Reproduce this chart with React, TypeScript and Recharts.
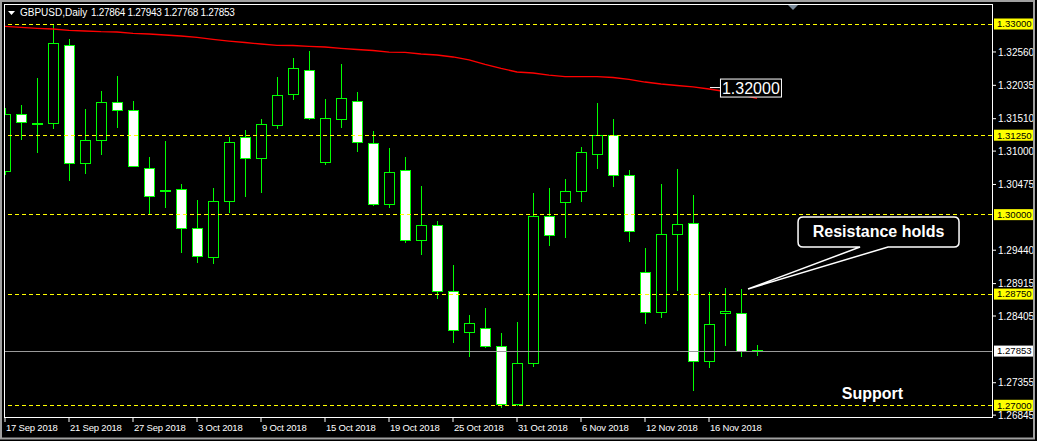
import React from "react"
import { ComposedChart, Bar, Line, XAxis, YAxis, ReferenceLine, ReferenceDot } from "recharts"

const FONT = "Liberation Sans, Arial, sans-serif"

// trading days shown on the chart
const dates = [
  "17 Sep 2018", "18 Sep 2018", "19 Sep 2018", "20 Sep 2018", "21 Sep 2018",
  "24 Sep 2018", "25 Sep 2018", "26 Sep 2018", "27 Sep 2018", "28 Sep 2018",
  "1 Oct 2018", "2 Oct 2018", "3 Oct 2018", "4 Oct 2018", "5 Oct 2018",
  "8 Oct 2018", "9 Oct 2018", "10 Oct 2018", "11 Oct 2018", "12 Oct 2018",
  "15 Oct 2018", "16 Oct 2018", "17 Oct 2018", "18 Oct 2018", "19 Oct 2018",
  "22 Oct 2018", "23 Oct 2018", "24 Oct 2018", "25 Oct 2018", "26 Oct 2018",
  "29 Oct 2018", "30 Oct 2018", "31 Oct 2018", "1 Nov 2018", "2 Nov 2018",
  "5 Nov 2018", "6 Nov 2018", "7 Nov 2018", "8 Nov 2018", "9 Nov 2018",
  "12 Nov 2018", "13 Nov 2018", "14 Nov 2018", "15 Nov 2018", "16 Nov 2018",
  "19 Nov 2018", "20 Nov 2018", "21 Nov 2018",
]

const opens = [
  1.30687, 1.31584, 1.3145, 1.3144, 1.3267, 1.30813, 1.31175, 1.31773, 1.31647, 1.30734,
  1.30392, 1.30404, 1.2979, 1.29334, 1.30215, 1.31222, 1.30891, 1.31411, 1.31898, 1.32276,
  1.30828, 1.31505, 1.31788, 1.31127, 1.30168, 1.30703, 1.29601, 1.29837, 1.28799, 1.28153,
  1.28216, 1.27933, 1.2702, 1.27666, 1.29979, 1.30199, 1.30372, 1.30954, 1.31253, 1.30624,
  1.29097, 1.28468, 1.29695, 1.29869, 1.27697, 1.28452, 1.28452, 1.27864,
]
const highs = [
  1.31678, 1.31725, 1.3215, 1.33, 1.32764, 1.31662, 1.31946, 1.32182, 1.31788, 1.30907,
  1.31159, 1.30482, 1.30231, 1.30419, 1.31222, 1.31332, 1.31505, 1.32166, 1.32465, 1.32575,
  1.3182, 1.32371, 1.3193, 1.31316, 1.31049, 1.30907, 1.30451, 1.299, 1.29208, 1.28421,
  1.28531, 1.28138, 1.28311, 1.30341, 1.30419, 1.30561, 1.31064, 1.31757, 1.31505, 1.30703,
  1.29475, 1.30482, 1.30718, 1.30309, 1.28783, 1.28846, 1.2883, 1.27943,
]
const lows = [
  1.30624, 1.31175, 1.3097, 1.31348, 1.30529, 1.3064, 1.30939, 1.31363, 1.3075, 1.3001,
  1.30105, 1.29397, 1.29239, 1.29223, 1.30026, 1.30278, 1.30341, 1.31348, 1.31804, 1.31489,
  1.30781, 1.31363, 1.30986, 1.30136, 1.30105, 1.29554, 1.29365, 1.28673, 1.2798, 1.2776,
  1.27902, 1.26957, 1.26989, 1.27603, 1.29507, 1.29632, 1.30199, 1.30718, 1.30435, 1.2957,
  1.28279, 1.28374, 1.28799, 1.27225, 1.27587, 1.27933, 1.2776, 1.27768,
]
const closes = [
  1.31584, 1.31458, 1.3144, 1.32701, 1.30813, 1.31175, 1.31773, 1.31647, 1.30766, 1.30293,
  1.30385, 1.2979, 1.29349, 1.30215, 1.31143, 1.30891, 1.31426, 1.31883, 1.32308, 1.31521,
  1.31521, 1.31836, 1.31143, 1.30168, 1.30671, 1.29601, 1.29837, 1.28799, 1.28185, 1.28295,
  1.27933, 1.2702, 1.27666, 1.29979, 1.2968, 1.30372, 1.30986, 1.31253, 1.30624, 1.29743,
  1.28468, 1.29695, 1.29853, 1.27697, 1.28279, 1.28484, 1.2785, 1.27853,
]
// red moving average
const ma = [
  1.32964, 1.32948, 1.32932, 1.32921, 1.32901, 1.3289, 1.32879, 1.32874, 1.32854, 1.32843,
  1.32827, 1.32811, 1.32788, 1.32759, 1.32732, 1.32709, 1.32685, 1.32665, 1.32662, 1.32649,
  1.32638, 1.32618, 1.32599, 1.32583, 1.32559, 1.32552, 1.32528, 1.32512, 1.32481, 1.32434,
  1.32363, 1.323, 1.32245, 1.32229, 1.32197, 1.32171, 1.32171, 1.32171, 1.32158, 1.32127,
  1.32087, 1.32056, 1.32032, 1.32009, 1.31977, 1.31938, 1.31883, 1.31831,
]

// ticks hidden behind the level tags are left out
const priceTicks = [1.3256, 1.32035, 1.3151, 1.31, 1.30475, 1.2944, 1.28915, 1.28405, 1.27355, 1.26845]
const dateTicks = [0, 4, 8, 12, 16, 20, 24, 28, 32, 36, 40, 44]
const levels = [1.33, 1.3125, 1.3, 1.2875, 1.27]
const lastPrice = 1.27853
const headerSymbol = "GBPUSD,Daily"
const headerPrices = "1.27864 1.27943 1.27768 1.27853"

const data = dates.map((d, i) => ({
  i,
  date: d,
  o: opens[i],
  h: highs[i],
  l: lows[i],
  c: closes[i],
  range: [lows[i], highs[i]],
  ma: ma[i],
}))

const Candle = (props: any) => {
  const { x, y, width, height, payload } = props
  const { o, h, l, c } = payload
  const cx = Math.round(x + width / 2)
  const top = Math.min(y, y + height)
  const hgt = Math.abs(height)
  const span = h - l
  const py = (p: number) => (span > 0 ? top + ((h - p) / span) * hgt : top)
  const bTop = Math.round(py(Math.max(o, c)))
  const bBot = Math.round(py(Math.min(o, c)))
  const bull = c >= o
  return (
    <g shapeRendering="crispEdges">
      <line x1={cx + 0.5} x2={cx + 0.5} y1={Math.round(top)} y2={Math.round(top + hgt)} stroke="#00ff00" />
      <rect
        x={cx - 4.5}
        y={bTop + 0.5}
        width={10}
        height={Math.max(bBot - bTop, 1)}
        fill={bull ? "#000" : "#fff"}
        stroke="#00ff00"
      />
    </g>
  )
}

const DateTick = (props: any) => {
  const { x, y, payload } = props
  return (
    <text x={x + 1} y={y} dy="0.71em" fill="#fff" fontSize={9.5} letterSpacing={-0.2} fontFamily={FONT}>
      {dates[payload.value]}
    </text>
  )
}

const tag = (value: number, bg: string) => (props: any) => {
  const vb = props.viewBox
  const x = vb.x + vb.width + 2
  const y = vb.y
  return (
    <g>
      <rect x={x} y={y - 5.5} width={41} height={11} fill={bg} />
      <text x={x + 3} y={y} dy="0.355em" fill="#000" fontSize={9.6} fontFamily={FONT}>
        {value.toFixed(5)}
      </text>
    </g>
  )
}

const Callout = (props: any) => {
  const { cx, cy } = props
  const L = 50, R = 211, T = -72, B = -42, r = 5
  const d = `M0,0 L112,${B} L${L + r},${B} Q${L},${B} ${L},${B - r} L${L},${T + r} Q${L},${T} ${L + r},${T} L${R - r},${T} Q${R},${T} ${R},${T + r} L${R},${B - r} Q${R},${B} ${R - r},${B} L140,${B} Z`
  return (
    <g transform={`translate(${cx},${cy})`}>
      <path d={d} fill="#000" stroke="#fff" strokeWidth={1.5} />
      <text x={(L + R) / 2} y={-52} textAnchor="middle" fill="#fff" fontSize={16} fontWeight="bold" fontFamily={FONT}>
        Resistance holds
      </text>
    </g>
  )
}

const SupportText = (props: any) => (
  <text x={props.cx} y={props.cy} fill="#fff" fontSize={16} fontWeight="bold" fontFamily={FONT}>
    Support
  </text>
)

const PriceNote = (props: any) => {
  const { cx, cy } = props
  return (
    <g>
      <line x1={cx} x2={cx + 10} y1={cy} y2={cy} stroke="#fff" />
      <rect x={cx + 10.5} y={cy - 8.5} width={61} height={18} fill="#000" stroke="#fff" />
      <text x={cx + 12} y={cy + 6.5} fill="#fff" fontSize={16} fontFamily={FONT}>
        1.32000
      </text>
    </g>
  )
}

export default function App() {
  return (
    <div style={{ position: "absolute", left: 0, top: 0, width: 1037, height: 441, background: "#000" }}>
      <ComposedChart width={1037} height={441} data={data} margin={{ top: 5, right: 0, bottom: 0, left: 5 }}>
        {levels.map((lv) => (
          <ReferenceLine
            key={lv}
            y={lv}
            stroke="#ffff00"
            strokeDasharray="4 3"
            shapeRendering="crispEdges"
            label={tag(lv, "#ffff00")}
          />
        ))}
        <ReferenceLine y={lastPrice} stroke="#9a9a9a" shapeRendering="crispEdges" label={tag(lastPrice, "#ffffff")} />
        <Line dataKey="ma" stroke="#ff0000" strokeWidth={1.3} dot={false} activeDot={false} isAnimationActive={false} />
        <Bar dataKey="range" barSize={11} shape={Candle} isAnimationActive={false} />
        <ReferenceDot x={46.44} y={1.2883} shape={Callout} />
        <ReferenceDot x={52.3} y={1.27099} shape={SupportText} />
        <ReferenceDot x={44.06} y={1.32} shape={PriceNote} />
        <XAxis
          type="number"
          dataKey="i"
          domain={[0, 61.6875]}
          ticks={dateTicks}
          interval={0}
          allowDataOverflow
          axisLine={false}
          tickLine={{ stroke: "#fff" }}
          tickSize={4}
          tickMargin={2}
          height={23}
          tick={DateTick}
        />
        <YAxis
          orientation="right"
          type="number"
          domain={[1.268, 1.33299]}
          ticks={priceTicks}
          interval={0}
          allowDataOverflow
          width={45}
          axisLine={false}
          tickLine={{ stroke: "#fff" }}
          tickSize={4}
          tickMargin={2}
          tick={{ fill: "#fff", fontSize: 10, fontFamily: FONT }}
          tickFormatter={(v: number) => v.toFixed(5)}
        />
      </ComposedChart>
      <svg width={1037} height={441} style={{ position: "absolute", left: 0, top: 0, pointerEvents: "none" }}>
        <rect x={1} y={1} width={1033} height={437.5} fill="none" stroke="#a0a0a0" strokeWidth={2} />
        <rect x={4.5} y={4.5} width={988} height={413} fill="none" stroke="#fff" />
        <polygon points="8,11 15,11 11.5,15" fill="#fff" />
        <text x={20} y={16} fill="#fff" fontSize={10} fontFamily={FONT}>{headerSymbol}</text>
        <text x={91} y={16} fill="#fff" fontSize={10} letterSpacing={-0.3} fontFamily={FONT}>{headerPrices}</text>
        <polygon points="788,5 798,5 793,10" fill="#7a8a9a" />
      </svg>
    </div>
  )
}
